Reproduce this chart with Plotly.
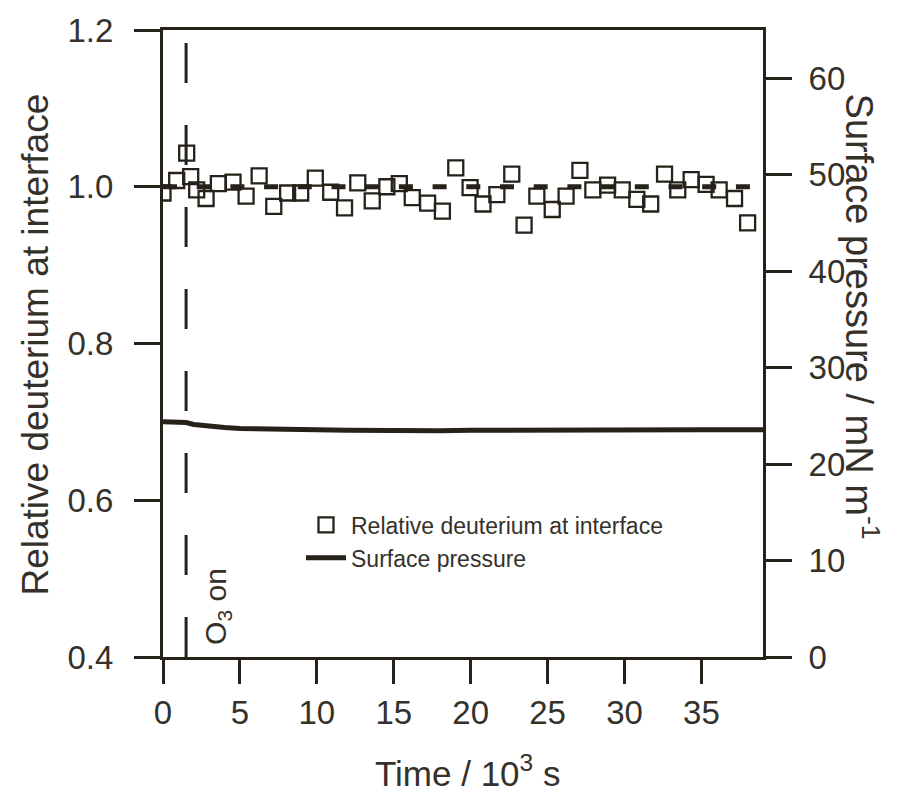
import plotly.graph_objects as go

# ---- data ----
time_deut = [0, 0.89, 1.54, 1.8, 2.19, 2.8, 3.6, 4.55, 5.4, 6.25, 7.2, 8.1, 8.95, 9.9,
             10.9, 11.8, 12.66, 13.6, 14.55, 15.36, 16.2, 17.2, 18.16, 19.03, 19.96,
             20.8, 21.7, 22.67, 23.47, 24.3, 25.3, 26.2, 27.1, 27.94, 28.9, 29.85,
             30.8, 31.7, 32.6, 33.46, 34.33, 35.3, 36.15, 37.15, 38.0]
rel_deut = [0.992, 1.008, 1.043, 1.013, 0.996, 0.985, 1.004, 1.006, 0.988, 1.014, 0.975,
            0.992, 0.992, 1.011, 0.993, 0.973, 1.005, 0.982, 1.0, 1.004, 0.986, 0.979,
            0.969, 1.024, 0.999, 0.978, 0.99, 1.016, 0.951, 0.988, 0.971, 0.988, 1.021,
            0.996, 1.002, 0.996, 0.984, 0.978, 1.016, 0.996, 1.009, 1.003, 0.996, 0.985,
            0.954]

time_sp = [0, 0.5, 1, 1.5, 2, 3, 4, 5, 6, 8, 10, 12, 15, 18, 20, 25, 30, 35, 39]
surf_pressure = [24.4, 24.4, 24.35, 24.3, 24.1, 23.9, 23.8, 23.7, 23.65, 23.6, 23.55,
                 23.5, 23.45, 23.45, 23.5, 23.55, 23.55, 23.55, 23.55]

ref_time = [0, 38.5]
ref_level = [1.0, 1.0]

o3_on_time = 1.5

x_ticks = [0, 5, 10, 15, 20, 25, 30, 35]
y_ticks = [0.4, 0.6, 0.8, 1.0, 1.2]
y2_ticks = [0, 10, 20, 30, 40, 50, 60]

LINE = "#26221a"
TEXT = "#35312a"
FONT = "Liberation Sans, Arial, sans-serif"

fig = go.Figure()

fig.add_trace(go.Scatter(
    x=ref_time, y=ref_level, mode="lines", showlegend=False,
    line=dict(color=LINE, width=5, dash="14px,19.7px"), hoverinfo="skip"))

fig.add_trace(go.Scatter(
    x=time_deut, y=rel_deut, mode="markers", name="Relative deuterium at interface",
    marker=dict(symbol="square-open", size=15, color=LINE, line=dict(width=2.3, color=LINE))))

fig.add_trace(go.Scatter(
    x=time_sp, y=surf_pressure, mode="lines", name="Surface pressure", yaxis="y2",
    line=dict(color=LINE, width=5)))

fig.add_shape(type="line", xref="x", yref="y", x0=o3_on_time, x1=o3_on_time,
              y0=0.4, y1=1.19, line=dict(color=LINE, width=3, dash="40px,42px"))

fig.add_annotation(text="O<sub>3</sub> on", x=3.5, y=0.465, xref="x", yref="y",
                   xanchor="center", yanchor="middle",
                   textangle=-90, showarrow=False, font=dict(size=30, color=TEXT, family=FONT))

fig.add_annotation(text="Time / 10<sup>3</sup> s", x=0.507, y=-0.182, xref="paper", yref="paper",
                   xanchor="center", yanchor="middle",
                   showarrow=False, font=dict(size=35, color=TEXT, family=FONT))
fig.add_annotation(text="Relative deuterium at interface", x=-0.212, y=0.498,
                   xref="paper", yref="paper", textangle=-90, showarrow=False,
                   xanchor="center", yanchor="middle",
                   font=dict(size=37, color=TEXT, family=FONT))
fig.add_annotation(text="Surface pressure / mN m<sup>-1</sup>", x=1.165, y=0.543,
                   xref="paper", yref="paper", textangle=90, showarrow=False,
                   xanchor="center", yanchor="middle",
                   font=dict(size=38, color=TEXT, family=FONT))

axis_common = dict(showline=True, linecolor=LINE, linewidth=3, ticks="outside",
                   tickcolor=LINE, tickwidth=3, showgrid=False, zeroline=False,
                   tickfont=dict(size=33, color=TEXT, family=FONT))

fig.update_layout(
    width=898, height=798,
    margin=dict(l=163, r=135, t=25, b=141),
    paper_bgcolor="white", plot_bgcolor="white",
    xaxis=dict(range=[0, 39], tickvals=x_ticks, ticklen=24, mirror=True,
               ticklabelstandoff=0, **axis_common),
    yaxis=dict(range=[0.4, 1.2], tickvals=y_ticks, tickformat=".1f", ticklen=26,
               ticklabelstandoff=14, **axis_common),
    yaxis2=dict(range=[0, 65], tickvals=y2_ticks, overlaying="y", side="right",
                ticklen=26, ticklabelstandoff=10, **axis_common),
    legend=dict(x=0.23, y=0.245, xanchor="left", yanchor="top", bgcolor="rgba(0,0,0,0)",
                font=dict(size=23, color=TEXT, family=FONT), itemwidth=40,
                tracegroupgap=0),
    showlegend=True,
)

fig.write_html("out.html")
